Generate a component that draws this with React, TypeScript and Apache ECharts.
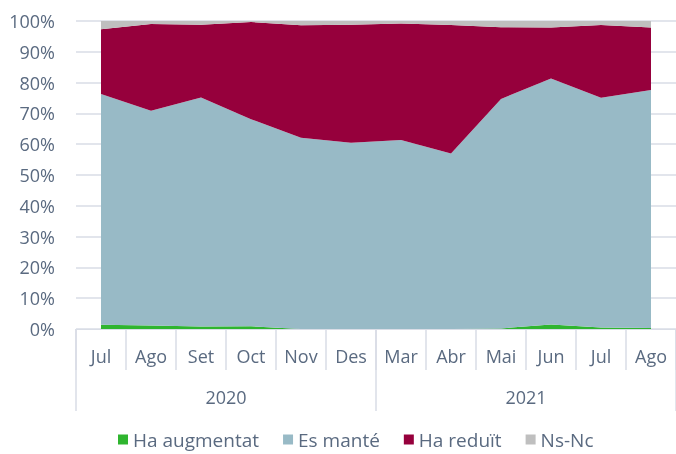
import React, { useEffect, useRef } from "react";
import * as echarts from "echarts";

const months = ["Jul", "Ago", "Set", "Oct", "Nov", "Des", "Mar", "Abr", "Mai", "Jun", "Jul", "Ago"];
const years = ["2020", "2021"];
const haAugmentat = [1.4, 1.1, 0.8, 0.9, 0, 0, 0, 0, 0.2, 1.5, 0.5, 0.3];
const esMante = [74.9, 69.8, 74.4, 67.2, 62.1, 60.5, 61.4, 57.0, 74.5, 79.8, 74.6, 77.3];
const haReduit = [21.0, 28.1, 23.6, 31.6, 36.5, 38.3, 37.8, 41.7, 23.3, 16.6, 23.6, 20.3];
const nsNc = [2.7, 1.0, 1.2, 0.3, 1.4, 1.2, 0.8, 1.3, 2.0, 2.1, 1.3, 2.1];
const yTicks = { min: 0, max: 100, interval: 10 };

const FONT = "Open Sans";
const TEXT = "#5a6a80";
const LINE = "#d9dde6";

export default function App() {
  const ref = useRef<HTMLDivElement>(null);
  useEffect(() => {
    if (!ref.current) return;
    const chart = echarts.init(ref.current, undefined, { renderer: "svg" });
    const mk = (name: string, data: number[], color: string) => ({
      name,
      type: "line",
      stack: "total",
      data,
      showSymbol: false,
      symbol: "none",
      lineStyle: { width: 0 },
      itemStyle: { color },
      areaStyle: { color, opacity: 1 },
    });
    chart.setOption({
      animation: false,
      grid: { left: 76, top: 21, width: 604, height: 308 },
      legend: {
        top: 425,
        left: 113,
        itemWidth: 10,
        itemHeight: 10,
        itemGap: 24,
        icon: "rect",
        textStyle: { color: TEXT, fontFamily: FONT, fontSize: 19, padding: [0, 0, 0, 0] },
        data: ["Ha augmentat", "Es manté", "Ha reduït", "Ns-Nc"],
      },
      xAxis: [
        {
          type: "category",
          data: months,
          boundaryGap: true,
          position: "bottom",
          axisLine: { show: true, lineStyle: { color: LINE, width: 1 } },
          axisTick: { show: true, interval: 0, length: 41, lineStyle: { color: LINE, width: 1.5 } },
          axisLabel: { color: TEXT, fontFamily: FONT, fontSize: 18, margin: 18, interval: 0 },
        },
        {
          type: "category",
          data: years,
          boundaryGap: true,
          position: "bottom",
          axisLine: { show: false },
          axisTick: { show: true, interval: 0, length: 82, lineStyle: { color: LINE, width: 1.5 } },
          axisLabel: { color: TEXT, fontFamily: FONT, fontSize: 18, margin: 59, interval: 0 },
        },
      ],
      yAxis: {
        type: "value",
        min: yTicks.min,
        max: yTicks.max,
        interval: yTicks.interval,
        axisLine: { show: false },
        axisTick: { show: false },
        axisLabel: { color: TEXT, fontFamily: FONT, fontSize: 18, margin: 21, formatter: "{value}%" },
        splitLine: { lineStyle: { color: LINE, width: 1.5 } },
      },
      series: [
        mk("Ha augmentat", haAugmentat, "#2fb52f"),
        mk("Es manté", esMante, "#98bac6"),
        mk("Ha reduït", haReduit, "#96003c"),
        mk("Ns-Nc", nsNc, "#bfbfbf"),
      ],
    });
    return () => chart.dispose();
  }, []);
  return (
    <div
      ref={ref}
      style={{ position: "fixed", left: 0, top: 0, width: 676, height: 454, overflow: "hidden" }}
    />
  );
}
